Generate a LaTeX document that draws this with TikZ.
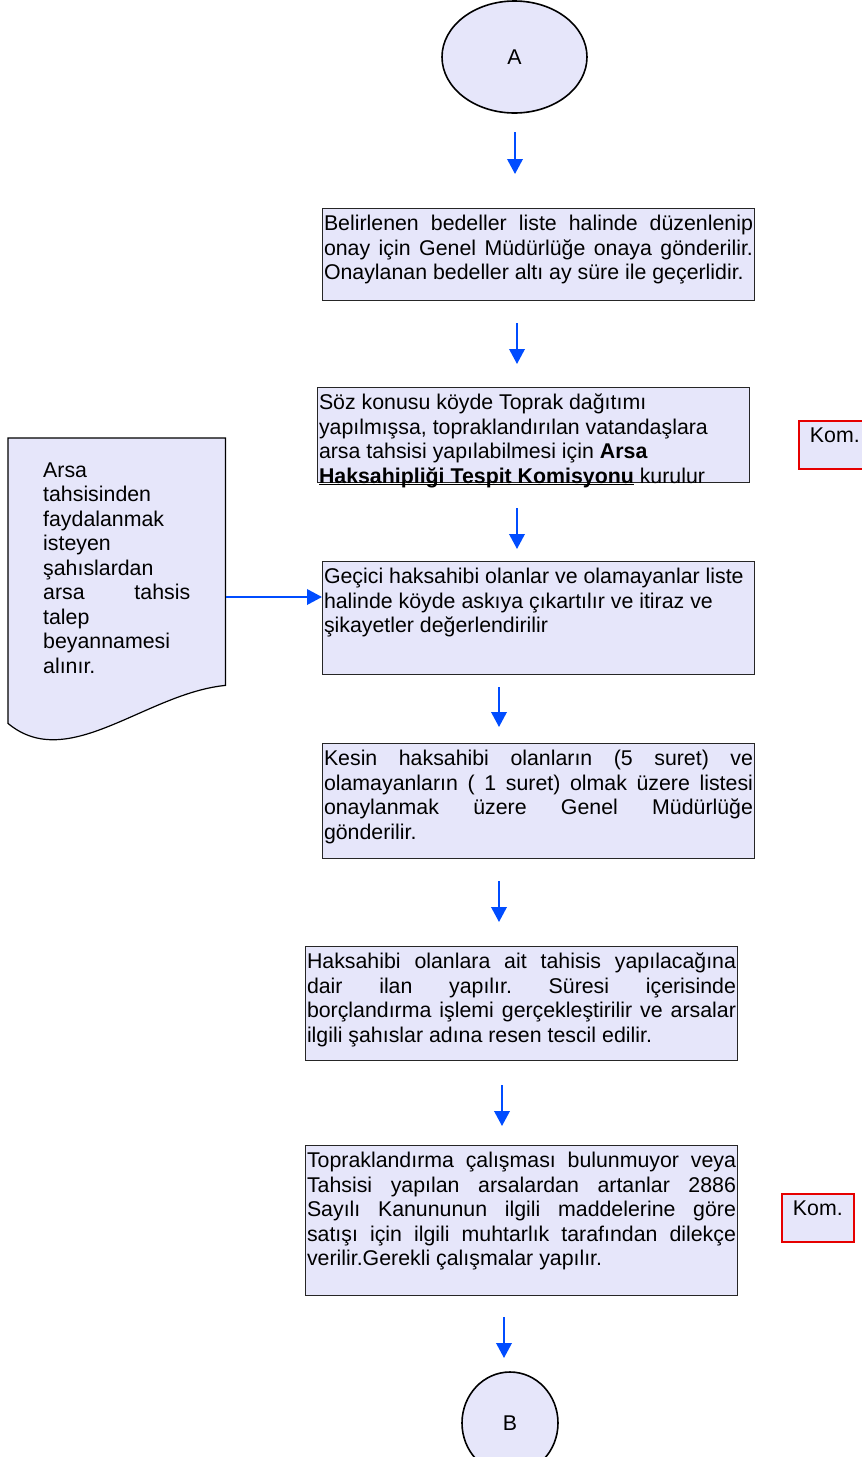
\documentclass[tikz,border=0pt]{standalone}
\usepackage{fontspec}
\setmainfont{Liberation Sans}
\usetikzlibrary{shapes.geometric, arrows.meta, backgrounds}

\definecolor{boxfill}{RGB}{230,230,250}
\definecolor{flowblue}{RGB}{0,76,255}
\definecolor{komred}{RGB}{230,0,0}

\hyphenpenalty=10000
\exhyphenpenalty=10000

\newcommand{\boxtext}[4][]{\parbox[t][#3][t]{#2}{\fontsize{21.33}{24.5}\selectfont\frenchspacing#1\rule{0pt}{22pt}#4}}
\newcommand{\ulbold}[1]{\leavevmode\setbox0\hbox{\bfseries #1}\rlap{\rule[-2.3pt]{\wd0}{1.4pt}}\box0\relax}

\tikzset{
    stepbox/.style={draw=black!85, line width=1pt, fill=boxfill, inner xsep=1.5pt, inner ysep=0pt, anchor=north west},
    kombox/.style={draw=komred, line width=1.6pt, fill=boxfill, inner sep=0pt, anchor=north west},
    terminal/.style={ellipse, draw=black, line width=1.6pt, fill=boxfill, inner sep=0pt, font=\fontsize{21.33}{24.5}\selectfont},
    docbox/.style={inner xsep=35pt, inner ysep=17pt, anchor=north west},
    docshape/.style={draw=black, line width=1.2pt, fill=boxfill},
    flow/.style={draw=flowblue, line width=2pt, -{Triangle[width=15.5pt,length=15pt]}},
}

\begin{document}
\begin{tikzpicture}[x=1pt, y=-1pt]
    \useasboundingbox (0,0) rectangle (862,1457);

    % start
    \node [terminal, minimum width=145, minimum height=112] (A) at (514.5,57) {A};

    % steps
    \node [stepbox] (b1) at (322,208) {\boxtext{429pt}{92pt}{Belirlenen bedeller liste halinde düzenlenip\linebreak onay için Genel Müdürlüğe onaya gönderilir.\linebreak Onaylanan bedeller altı ay süre ile geçerlidir.}};
    \node [stepbox] (b2) at (317,387) {\boxtext[\raggedright]{429pt}{95pt}{Söz konusu köyde Toprak dağıtımı\\ yapılmışsa, topraklandırılan vatandaşlara\\ arsa tahsisi yapılabilmesi için \textbf{Arsa}\\ \ulbold{Haksahipliği Tespit Komisyonu} kurulur}};
    \node [stepbox] (b3) at (322,561) {\boxtext[\raggedright]{429pt}{113pt}{Geçici haksahibi olanlar ve olamayanlar liste\\ halinde köyde askıya çıkartılır ve itiraz ve\\ şikayetler değerlendirilir}};
    \node [stepbox] (b4) at (322,743) {\boxtext{429pt}{115pt}{Kesin haksahibi olanların (5 suret) ve\linebreak olamayanların ( 1 suret) olmak üzere listesi\linebreak onaylanmak üzere Genel Müdürlüğe\linebreak gönderilir.}};
    \node [stepbox] (b5) at (305,946) {\boxtext{429pt}{114pt}{Haksahibi olanlara ait tahisis yapılacağına\linebreak dair ilan yapılır. Süresi içerisinde\linebreak borçlandırma işlemi gerçekleştirilir ve arsalar\linebreak ilgili şahıslar adına resen tescil edilir.}};
    \node [stepbox] (b6) at (305,1145) {\boxtext{429pt}{150pt}{Topraklandırma çalışması bulunmuyor veya\linebreak Tahsisi yapılan arsalardan artanlar 2886\linebreak Sayılı Kanununun ilgili maddelerine göre\linebreak satışı için ilgili muhtarlık tarafından dilekçe\linebreak verilir.Gerekli çalışmalar yapılır.}};

    % end
    \node [terminal, minimum width=96, minimum height=102] (B) at (510,1423) {B};

    % kom
    \node [kombox] (kom1) at (798,420) {\boxtext[\centering]{72pt}{48pt}{Kom.}};
    \node [kombox] (kom2) at (781,1193) {\boxtext[\centering]{72pt}{48pt}{Kom.}};

    % document
    \node [docbox] (doc) at (8,438) {\boxtext{147pt}{251pt}{Arsa\linebreak tahsisinden\linebreak faydalanmak\linebreak isteyen\linebreak şahıslardan\linebreak arsa tahsis\linebreak talep\linebreak beyannamesi\linebreak alınır.}};
    \begin{scope}[on background layer]
        \draw [docshape] (doc.south west) -- (doc.north west) -- (doc.north east)
            -- ([shift={(0,-38)}]doc.south east)
            .. controls ([shift={(-80,-30)}]doc.south east) and ([shift={(60,50)}]doc.south west) .. (doc.south west) -- cycle;
    \end{scope}

    % arrows
    \coordinate (a1top) at (515,132);
    \coordinate (a1tip) at (515,174);
    \coordinate (a2top) at (517,323);
    \coordinate (a2tip) at (517,364);
    \coordinate (a3top) at (517,508);
    \coordinate (a3tip) at (517,549);
    \coordinate (a4top) at (499,687);
    \coordinate (a4tip) at (499,727);
    \coordinate (a5top) at (499,881);
    \coordinate (a5tip) at (499,922);
    \coordinate (a6top) at (502,1085);
    \coordinate (a6tip) at (502,1126);
    \coordinate (a7top) at (504,1317);
    \coordinate (a7tip) at (504,1358);
    \coordinate (docout) at (226,597);

    \draw [flow] (a1top) -- (a1tip);
    \draw [flow] (a2top) -- (a2tip);
    \draw [flow] (a3top) -- (a3tip);
    \draw [flow] (a4top) -- (a4tip);
    \draw [flow] (a5top) -- (a5tip);
    \draw [flow] (a6top) -- (a6tip);
    \draw [flow] (a7top) -- (a7tip);
    \draw [flow] (docout) -- (docout -| b3.west);
\end{tikzpicture}
\end{document}
